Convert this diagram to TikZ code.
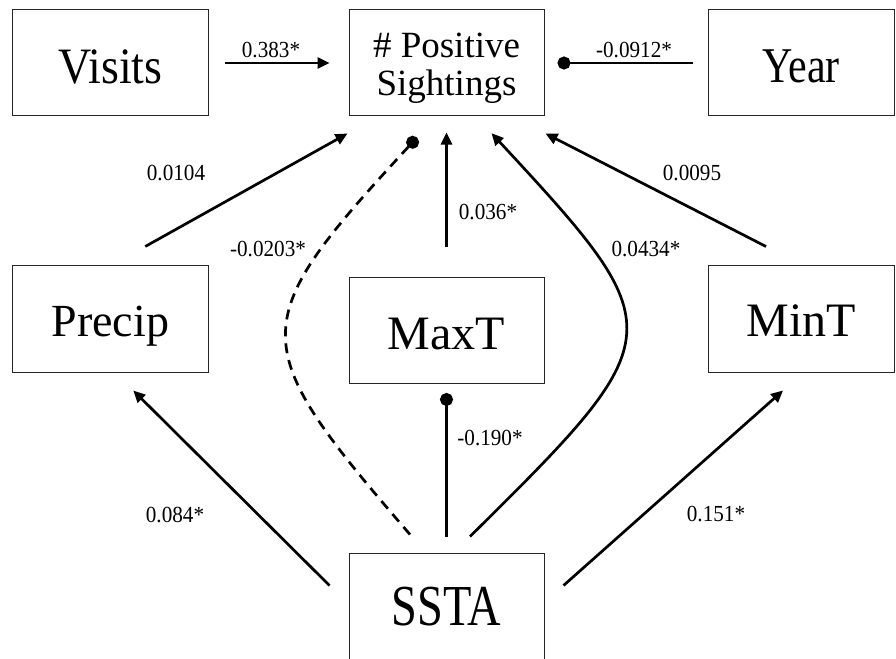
\documentclass[tikz,border=0pt]{standalone}
\usepackage{fontspec}
\setmainfont{Liberation Serif}
\newfontfamily\fvis{Liberation Serif}[FakeStretch=0.9]
\newfontfamily\fyr{Liberation Serif}[FakeStretch=0.84]
\newfontfamily\fss{Liberation Serif}[FakeStretch=0.8]
\newfontfamily\flb{Liberation Serif}[FakeStretch=0.92]
\usetikzlibrary{arrows.meta}
\begin{document}
\begin{tikzpicture}[x=1pt,y=-1pt,
  box/.style={draw=black!85,line width=1pt,minimum width=195pt,minimum height=106pt,inner sep=0pt,
    font=\fontsize{48}{52}\selectfont,text depth=2pt},
  lbl/.style={inner sep=0pt,font=\flb\fontsize{23}{25}\selectfont},
  conn/.style={line width=2.7pt,black},
  arr/.style={conn,-{Triangle[length=12pt,width=11pt]}},
  dotl/.style={conn,-{Circle[length=13pt]}},
  dashl/.style={conn,dash pattern=on 10pt off 7pt,-{Circle[length=13pt]}}]
\useasboundingbox (0,0) rectangle (896,658);
\clip (0,0) rectangle (896,658);
% boxes
\node[box,minimum width=195.5pt,font=\fvis\fontsize{51}{55}\selectfont,text height=42.6pt] (visits) at (110.25,63) {Visits};
\node[box,font=\fontsize{37}{38}\selectfont,align=center,text height=,text depth=] (pos) at (446.5,63) {\rule{0pt}{34.5pt}\# Positive\\Sightings};
\node[box,minimum width=186pt,font=\fyr\fontsize{50}{54}\selectfont,text height=42pt] (year) at (801,63) {Year};
\node[box,minimum width=195.5pt,minimum height=107pt,font=\fontsize{46}{50}\selectfont,text height=37pt] (precip) at (110.25,318.5) {Precip};
\node[box,text height=40.6pt] (maxt) at (446.5,330) {MaxT};
\node[box,minimum width=186pt,minimum height=107pt,text height=38.4pt] (mint) at (801,318.5) {MinT};
\node[box,minimum height=110pt,font=\fss\fontsize{58}{62}\selectfont,text height=36pt] (ssta) at (446.5,608) {SSTA};
% connectors
\draw[arr] ([xshift=16pt]visits.east) -- ([xshift=-19pt]pos.west);
\draw[dotl] ([xshift=-15pt]year.west) -- ([xshift=13pt]pos.east);
\draw[arr] ([shift={(35pt,18pt)}]precip.north) -- ([shift={(-1pt,-17pt)}]pos.south west);
\draw[dashl] ([shift={(-36.5pt,18pt)}]ssta.north) .. controls (244,342) and (244,325) .. ([shift={(-29.5pt,-21pt)}]pos.south);
\draw[arr] ([yshift=30pt]maxt.north) -- ([yshift=-16pt]pos.south);
\draw[arr] ([shift={(23.5pt,16pt)}]ssta.north) .. controls (674,335) and (674,330) .. ([shift={(45pt,-16.7pt)}]pos.south);
\draw[arr] ([shift={(-35pt,18pt)}]mint.north) -- ([shift={(1pt,-17pt)}]pos.south east);
\draw[dotl] ([yshift=16pt]ssta.north) -- ([yshift=-9.5pt]maxt.south);
\draw[arr] ([shift={(-19pt,-33pt)}]ssta.north west) -- ([shift={(23pt,-18pt)}]precip.south);
\draw[arr] ([shift={(19pt,-33pt)}]ssta.north east) -- ([shift={(-18pt,-18pt)}]mint.south);
% labels
\node[lbl] (l1) at (271,50) {0.383*};
\node[lbl] (l2) at (634,50) {-0.0912*};
\node[lbl] (l3) at (176,173) {0.0104};
\node[lbl] (l4) at (692,173) {0.0095};
\node[lbl] (l5) at (488,212) {0.036*};
\node[lbl] (l6) at (268,249) {-0.0203*};
\node[lbl] (l7) at (646,249) {0.0434*};
\node[lbl] (l8) at (490,438) {-0.190*};
\node[lbl] (l9) at (175,515) {0.084*};
\node[lbl] (l10) at (716,514) {0.151*};
\end{tikzpicture}
\end{document}
